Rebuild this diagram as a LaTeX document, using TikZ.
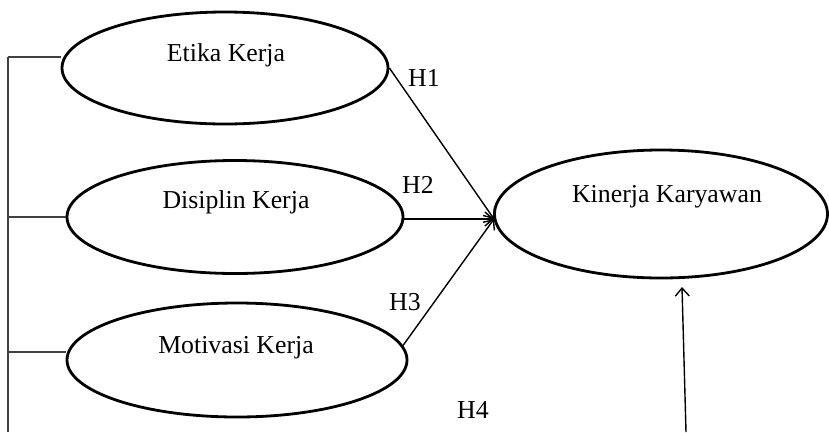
\documentclass[tikz,border=0pt]{standalone}
\usepackage{fontspec}
\setmainfont{Liberation Serif}
\usetikzlibrary{shapes.geometric,arrows.meta}

\begin{document}
\begin{tikzpicture}[
	x=1pt, y=-1pt,
	var/.style={
		ellipse, draw, line width=2.8pt,
		inner sep=0pt
	},
	lbl/.style={
		anchor=base, inner sep=0pt,
		font=\fontsize{25.8}{30}\selectfont
	},
	path/.style={
		line width=1.4pt,
		-{Straight Barb[length=8pt,width=14pt,line width=1.4pt]}
	},
	bar/.style={line width=1.2pt, draw=black!75}
	]
	\useasboundingbox (0,0) rectangle (829,432);
	% latent variables
	\node[var, minimum width=326pt, minimum height=112pt] (etika) at (225,68) {};
	\node[var, minimum width=336pt, minimum height=113pt] (disiplin) at (235,217) {};
	\node[var, minimum width=340pt, minimum height=114pt] (motivasi) at (237,360) {};
	\node[var, minimum width=333pt, minimum height=128pt] (kinerja) at (661,214) {};
	\node[lbl] (t-etika) at (226,61) {Etika Kerja};
	\node[lbl] (t-disiplin) at (236,208) {Disiplin Kerja};
	\node[lbl] (t-motivasi) at (236,353) {Motivasi Kerja};
	\node[lbl] (t-kinerja) at (667,202) {Kinerja Karyawan};
	% paths
	\coordinate (in) at (494,219);
	\draw[path] (etika.east) -- (in);
	\draw[path] (in -| disiplin.east) -- (in);
	\draw[path] (motivasi.5) -- (in);
	\coordinate (foot) at (686,432);
	\coordinate (head) at (682,287);
	\draw[path] (foot) -- (head);
	% bracket
	\coordinate (top) at (8,57);
	\coordinate (bottom) at (8,432);
	\draw[bar] (top) -- (bottom);
	\draw[bar] (top) -- (top -| etika.west);
	\draw[bar] (8,217) -- (disiplin.west |- 0,217);
	\draw[bar] (8,352) -- (motivasi.west |- 0,352);
	% hypotheses
	\node[lbl, anchor=center] (h1) at (424,78) {H1};
	\node[lbl, anchor=center] (h2) at (418,185) {H2};
	\node[lbl, anchor=center] (h3) at (405,302) {H3};
	\node[lbl, anchor=center] (h4) at (473,410) {H4};
\end{tikzpicture}
\end{document}
